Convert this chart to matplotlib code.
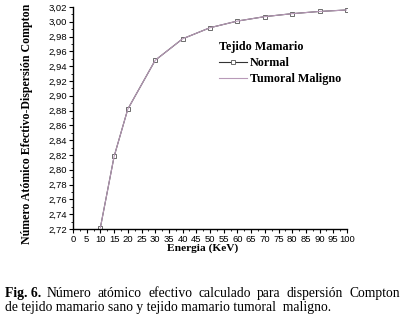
import matplotlib
matplotlib.use("Agg")
import matplotlib.pyplot as plt
from matplotlib.ticker import MultipleLocator, FuncFormatter

energia = [10, 15, 20, 30, 40, 50, 60, 70, 80, 90, 100]
normal = [2.722, 2.818, 2.882, 2.948, 2.977, 2.992, 3.001, 3.007, 3.011, 3.014, 3.016]
tumoral = [2.722, 2.818, 2.882, 2.948, 2.977, 2.992, 3.001, 3.007, 3.011, 3.014, 3.016]

W, H = 404, 318
fig = plt.figure(figsize=(W / 100, H / 100), dpi=100)
ax = fig.add_axes([73 / W, 1 - 229 / H, (347 - 73) / W, (229 - 7) / H])

ax.plot(energia, normal, color="#333333", lw=0.8, marker="s", ms=3.5,
        mfc="white", mec="#555555", mew=0.6, label="Normal", zorder=2)
ax.plot(energia, tumoral, color="#b89ab8", lw=0.8, label="Tumoral Maligno", zorder=3)

ax.set_xlim(0, 100)
ax.set_ylim(2.72, 3.02)
ax.xaxis.set_major_locator(MultipleLocator(5))
ax.xaxis.set_minor_locator(MultipleLocator(2.5))
ax.yaxis.set_major_locator(MultipleLocator(0.02))
ax.yaxis.set_minor_locator(MultipleLocator(0.01))
ax.yaxis.set_major_formatter(FuncFormatter(lambda v, p: f"{v:.2f}".replace(".", ",")))
ax.xaxis.set_major_formatter(FuncFormatter(lambda v, p: f"{v:.0f}"))

for s in ["top", "right"]:
    ax.spines[s].set_visible(False)
for s in ["left", "bottom"]:
    ax.spines[s].set_linewidth(1.0)
ax.tick_params(which="major", direction="out", length=3, width=0.8, pad=1.5,
               labelsize=6.8)
ax.tick_params(which="minor", direction="out", length=1.5, width=0.6)
for lab in ax.get_xticklabels() + ax.get_yticklabels():
    lab.set_fontfamily("Liberation Sans")

ax.set_xlabel("Energia (KeV)", family="Liberation Serif", fontweight="bold",
              fontsize=8.2)
ax.xaxis.set_label_coords(203 / W, 1 - 248 / H, transform=fig.transFigure)
ax.set_ylabel("Número Atómico Efectivo-Dispersión Compton", family="Liberation Serif",
              fontweight="bold", fontsize=8.6)
ax.yaxis.set_label_coords(27 / W, 1 - 124 / H, transform=fig.transFigure)
ax.yaxis.label.set_va("center")
ax.xaxis.label.set_va("center")

leg = ax.legend(loc="upper left", bbox_to_anchor=(219 / W, 1 - 41 / H),
                bbox_transform=fig.transFigure, frameon=False,
                title="Tejido Mamario", handlelength=2.3, handletextpad=0.25,
                labelspacing=0.35, borderaxespad=0, borderpad=0,
                prop={"family": "Liberation Serif", "weight": "bold", "size": 8.7})
leg.get_title().set_fontfamily("Liberation Serif")
leg.get_title().set_fontweight("bold")
leg.get_title().set_fontsize(8.7)
leg._legend_box.align = "left"

# Caption (line 1 justified)
cap_fs = 9.8
fig.canvas.draw()
renderer = fig.canvas.get_renderer()
y1 = 1 - 297 / H
y2 = 1 - 311 / H
fig.text(5 / W, y1, "Fig. 6.", family="Liberation Serif", fontweight="bold",
         fontsize=cap_fs, va="baseline")
words = ["Número", "atómico", "efectivo", "calculado", "para", "dispersión", "Compton"]
objs = [fig.text(0, y1, w, family="Liberation Serif", fontsize=cap_fs, va="baseline")
        for w in words]
widths = [o.get_window_extent(renderer).width for o in objs]
x_start = 47.0
x_end = 400.0
gap = (x_end - x_start - sum(widths)) / (len(words) - 1)
x = x_start
for o, w in zip(objs, widths):
    o.set_x(x / W)
    x += w + gap
fig.text(5 / W, y2, "de tejido mamario sano y tejido mamario tumoral  maligno.",
         family="Liberation Serif", fontsize=cap_fs, va="baseline")

fig.savefig("out.png", dpi=100)
